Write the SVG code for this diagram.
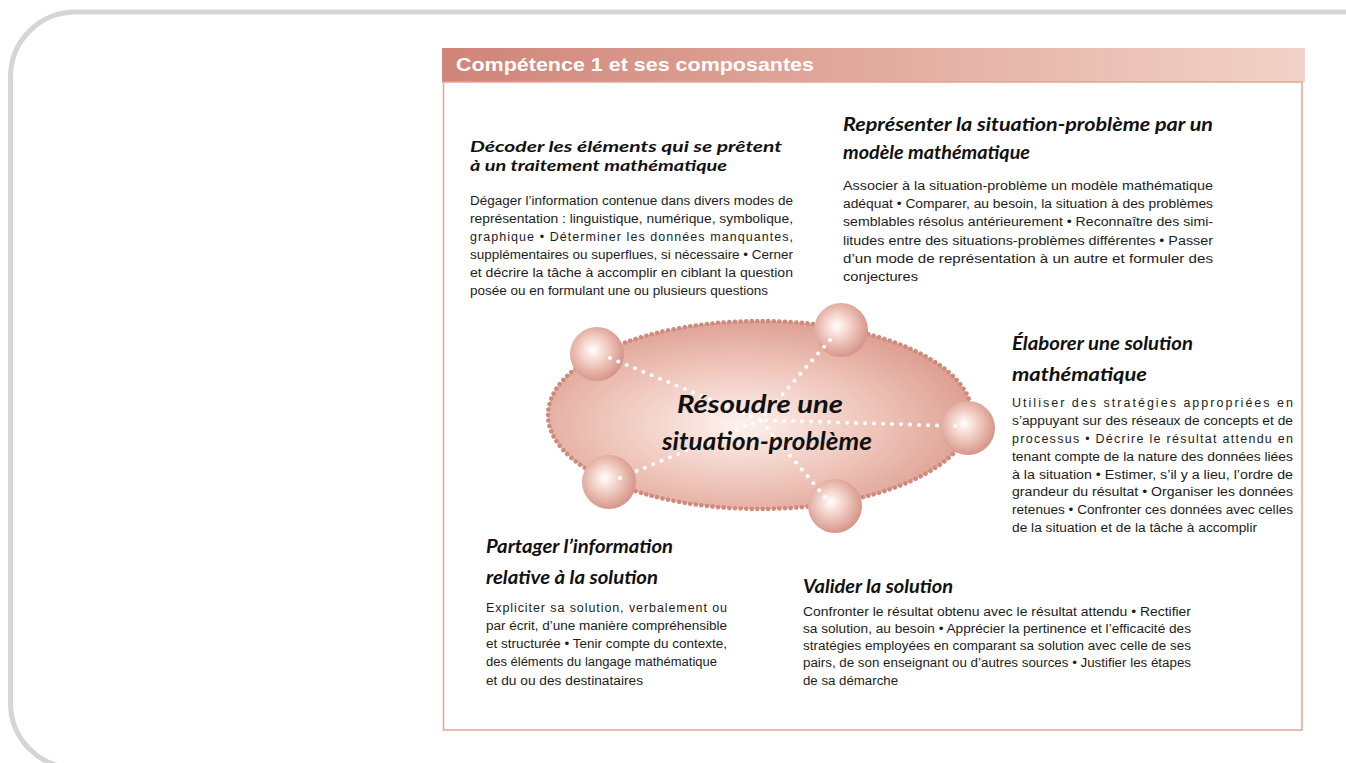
<svg xmlns="http://www.w3.org/2000/svg" width="1346" height="763" viewBox="0 0 1346 763">
<defs>
<linearGradient id="hdr" x1="0" y1="0" x2="1" y2="0">
<stop offset="0" stop-color="#d08478"/>
<stop offset="0.5" stop-color="#e2ab9f"/>
<stop offset="1" stop-color="#f2d3c9"/>
</linearGradient>
<radialGradient id="ell" cx="0.45" cy="0.55" r="0.6">
<stop offset="0" stop-color="#fdf2ee"/>
<stop offset="0.55" stop-color="#eec3b8"/>
<stop offset="1" stop-color="#db9a8d"/>
</radialGradient>
<radialGradient id="sph" cx="0.45" cy="0.45" r="0.6" fx="0.42" fy="0.42">
<stop offset="0" stop-color="#ffffff"/>
<stop offset="0.35" stop-color="#f5d6cd"/>
<stop offset="1" stop-color="#d48d80"/>
</radialGradient>
<style>
.hd{font-family:"Lato","Liberation Sans",sans-serif;font-weight:700;font-style:italic;font-size:18px;fill:#111}
.hs{font-size:16px}
.bd{font-family:"Liberation Sans","Arial",sans-serif;font-size:12.5px;fill:#1c1c1c}
.ct{font-family:"Lato","Liberation Sans",sans-serif;font-weight:700;font-style:italic;font-size:24px;fill:#111;text-anchor:middle}
.dots{stroke:#ffffff;stroke-width:4;stroke-dasharray:0 9;stroke-linecap:round;fill:none}
.sph{fill:url(#sph)}
</style>
</defs>
<rect x="0" y="0" width="1346" height="763" fill="#ffffff"/>
<rect x="10.5" y="12" width="1400" height="756" rx="65" ry="65" fill="#ffffff" stroke="#d5d5d7" stroke-width="5"/>

<g id="frame">
<rect x="442" y="48" width="863" height="34" fill="url(#hdr)"/>
<rect x="443.5" y="82" width="858.5" height="648" fill="none" stroke="#e8a395" stroke-width="1.5"/>
<text x="456" y="71" font-family="Liberation Sans, Arial, sans-serif" font-weight="700" font-size="19" fill="#ffffff" textLength="358" lengthAdjust="spacingAndGlyphs">Compétence 1 et ses composantes</text>
</g>

<g id="center">
<ellipse cx="760" cy="415" rx="212" ry="94" fill="url(#ell)" stroke="#cf8a7c" stroke-width="4.5" stroke-dasharray="0.1 5.5" stroke-linecap="round"/>
</g>

<g id="connectors">
<line class="dots" x1="610" y1="358" x2="760" y2="420"/>
<line class="dots" x1="830" y1="340" x2="760" y2="420"/>
<line class="dots" x1="955" y1="426" x2="760" y2="420"/>
<line class="dots" x1="620" y1="478" x2="760" y2="420"/>
<line class="dots" x1="825" y1="497" x2="760" y2="420"/>
</g>

<g id="spheres">
<circle class="sph" cx="597" cy="354" r="27"/>
<circle class="sph" cx="841" cy="330" r="27"/>
<circle class="sph" cx="968" cy="428" r="27"/>
<circle class="sph" cx="609" cy="482" r="27"/>
<circle class="sph" cx="835" cy="506" r="27"/>
</g>
<g id="spheres-dots">
<line class="dots" x1="610" y1="358" x2="622" y2="363"/>
<line class="dots" x1="830" y1="340" x2="824" y2="347"/>
<line class="dots" x1="955" y1="426" x2="946" y2="426"/>
<line class="dots" x1="620" y1="478" x2="628" y2="474"/>
<line class="dots" x1="825" y1="497" x2="819" y2="490"/>
</g>

<g id="center-label">
<text class="ct" x="760" y="413" textLength="166" lengthAdjust="spacingAndGlyphs">Résoudre une</text>
<text class="ct" x="767" y="450" textLength="210" lengthAdjust="spacingAndGlyphs">situation-problème</text>
</g>

<g id="decoder">
<text class="hd hs" x="470" y="152" textLength="312" lengthAdjust="spacingAndGlyphs">Décoder les éléments qui se prêtent</text>
<text class="hd hs" x="470" y="171" textLength="257" lengthAdjust="spacingAndGlyphs">à un traitement mathématique</text>
<text class="bd" x="470" y="205" textLength="323" lengthAdjust="spacingAndGlyphs">Dégager l’information contenue dans divers modes de</text>
<text class="bd" x="470" y="223" textLength="323" lengthAdjust="spacingAndGlyphs">représentation : linguistique, numérique, symbolique,</text>
<text class="bd" x="470" y="241" textLength="323" lengthAdjust="spacing">graphique • Déterminer les données manquantes,</text>
<text class="bd" x="470" y="259" textLength="323" lengthAdjust="spacingAndGlyphs">supplémentaires ou superflues, si nécessaire • Cerner</text>
<text class="bd" x="470" y="277" textLength="323" lengthAdjust="spacingAndGlyphs">et décrire la tâche à accomplir en ciblant la question</text>
<text class="bd" x="470" y="295" textLength="298" lengthAdjust="spacingAndGlyphs">posée ou en formulant une ou plusieurs questions</text>
</g>

<g id="representer">
<text class="hd" x="843" y="131" textLength="370" lengthAdjust="spacingAndGlyphs">Représenter la situation-problème par un</text>
<text class="hd" x="843" y="159" textLength="187" lengthAdjust="spacingAndGlyphs">modèle mathématique</text>
<text class="bd" x="843" y="190" textLength="370" lengthAdjust="spacingAndGlyphs">Associer à la situation-problème un modèle mathématique</text>
<text class="bd" x="843" y="208" textLength="370" lengthAdjust="spacingAndGlyphs">adéquat • Comparer, au besoin, la situation à des problèmes</text>
<text class="bd" x="843" y="226" textLength="370" lengthAdjust="spacingAndGlyphs">semblables résolus antérieurement • Reconnaître des simi-</text>
<text class="bd" x="843" y="245" textLength="370" lengthAdjust="spacingAndGlyphs">litudes entre des situations-problèmes différentes • Passer</text>
<text class="bd" x="843" y="263" textLength="370" lengthAdjust="spacingAndGlyphs">d’un mode de représentation à un autre et formuler des</text>
<text class="bd" x="843" y="281" textLength="75" lengthAdjust="spacingAndGlyphs">conjectures</text>
</g>

<g id="elaborer">
<text class="hd" x="1012" y="350" textLength="181" lengthAdjust="spacingAndGlyphs">Élaborer une solution</text>
<text class="hd" x="1012" y="381" textLength="135" lengthAdjust="spacingAndGlyphs">mathématique</text>
<text class="bd" x="1012" y="407" textLength="281" lengthAdjust="spacing">Utiliser des stratégies appropriées en</text>
<text class="bd" x="1012" y="425" textLength="281" lengthAdjust="spacingAndGlyphs">s’appuyant sur des réseaux de concepts et de</text>
<text class="bd" x="1012" y="443" textLength="281" lengthAdjust="spacing">processus • Décrire le résultat attendu en</text>
<text class="bd" x="1012" y="461" textLength="281" lengthAdjust="spacingAndGlyphs">tenant compte de la nature des données liées</text>
<text class="bd" x="1012" y="479" textLength="281" lengthAdjust="spacingAndGlyphs">à la situation • Estimer, s’il y a lieu, l’ordre de</text>
<text class="bd" x="1012" y="496" textLength="281" lengthAdjust="spacingAndGlyphs">grandeur du résultat • Organiser les données</text>
<text class="bd" x="1012" y="514" textLength="281" lengthAdjust="spacingAndGlyphs">retenues • Confronter ces données avec celles</text>
<text class="bd" x="1012" y="532" textLength="245" lengthAdjust="spacingAndGlyphs">de la situation et de la tâche à accomplir</text>
</g>

<g id="partager">
<text class="hd" x="486" y="553" textLength="187" lengthAdjust="spacingAndGlyphs">Partager l’information</text>
<text class="hd" x="486" y="584" textLength="172" lengthAdjust="spacingAndGlyphs">relative à la solution</text>
<text class="bd" x="486" y="612" textLength="241" lengthAdjust="spacing">Expliciter sa solution, verbalement ou</text>
<text class="bd" x="486" y="630" textLength="241" lengthAdjust="spacingAndGlyphs">par écrit, d’une manière compréhensible</text>
<text class="bd" x="486" y="648" textLength="241" lengthAdjust="spacingAndGlyphs">et structurée • Tenir compte du contexte,</text>
<text class="bd" x="486" y="666" textLength="231" lengthAdjust="spacingAndGlyphs">des éléments du langage mathématique</text>
<text class="bd" x="486" y="685" textLength="157" lengthAdjust="spacingAndGlyphs">et du ou des destinataires</text>
</g>

<g id="valider">
<text class="hd" x="803" y="593" textLength="150" lengthAdjust="spacingAndGlyphs">Valider la solution</text>
<text class="bd" x="803" y="616" textLength="388" lengthAdjust="spacingAndGlyphs">Confronter le résultat obtenu avec le résultat attendu • Rectifier</text>
<text class="bd" x="803" y="633" textLength="388" lengthAdjust="spacingAndGlyphs">sa solution, au besoin • Apprécier la pertinence et l’efficacité des</text>
<text class="bd" x="803" y="650" textLength="388" lengthAdjust="spacingAndGlyphs">stratégies employées en comparant sa solution avec celle de ses</text>
<text class="bd" x="803" y="667" textLength="388" lengthAdjust="spacingAndGlyphs">pairs, de son enseignant ou d’autres sources • Justifier les étapes</text>
<text class="bd" x="803" y="685" textLength="95" lengthAdjust="spacingAndGlyphs">de sa démarche</text>
</g>
</svg>
